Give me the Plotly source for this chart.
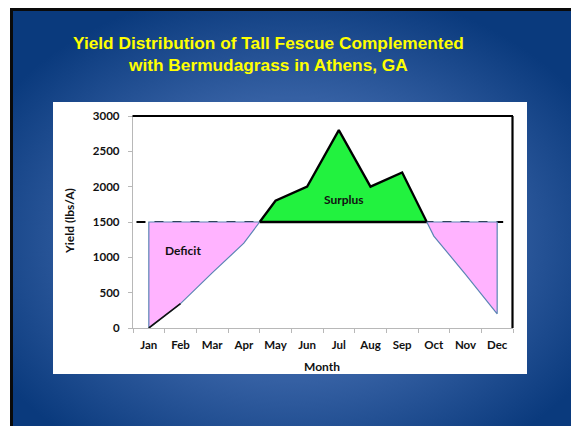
import base64
import plotly.graph_objects as go

months = ["Jan", "Feb", "Mar", "Apr", "May", "Jun", "Jul", "Aug", "Sep", "Oct", "Nov", "Dec"]
yield_lbs = [0, 345, 780, 1200, 1800, 2000, 2800, 2000, 2200, 1300, 760, 200]
requirement = 1500
y_ticks = [0, 500, 1000, 1500, 2000, 2500, 3000]
title_text = "Yield Distribution of Tall Fescue Complemented<br>with Bermudagrass in Athens, GA"

W, H = 571, 426
L, R, T, B = 133, 58, 116, 98
PW, PH = W - L - R, H - T - B


def px(x):
    return (x - L) / PW


def py(y):
    return (H - B - y) / PH


# Build surplus / deficit polygons from the data (with interpolated crossings)
xs = list(range(len(months)))
segments = []
cur_kind = None
cur = []
for i in range(len(xs)):
    yv = yield_lbs[i]
    kind = "s" if yv > requirement else "d"
    if cur_kind is None:
        cur_kind = kind
        cur = [(xs[i], yv)]
        continue
    if kind != cur_kind:
        y0 = yield_lbs[i - 1]
        xc = xs[i - 1] + (requirement - y0) / (yv - y0)
        cur.append((xc, requirement))
        segments.append((cur_kind, cur))
        cur_kind = kind
        cur = [(xc, requirement), (xs[i], yv)]
    else:
        cur.append((xs[i], yv))
segments.append((cur_kind, cur))

fig = go.Figure()

# dashed requirement line (under the deficit fills)
fig.add_trace(go.Scatter(
    x=[-0.39, 11.19], y=[requirement, requirement], mode="lines",
    line=dict(color="black", width=1.8, dash="dash"), hoverinfo="skip", showlegend=False))

for kind, pts in segments:
    xx, yy = zip(*pts)
    xx = list(xx)
    yy = list(yy)
    if yy[-1] != requirement:
        xx.append(xx[-1])
        yy.append(requirement)
    if yy[0] != requirement:
        xx.append(xx[0])
        yy.append(requirement)
    xx.append(xx[0])
    yy.append(yy[0])
    if kind == "d":
        fig.add_trace(go.Scatter(
            x=xx, y=yy, mode="lines", fill="toself", fillcolor="#FFB3FF",
            line=dict(color="#5B85B5", width=1.2), hoverinfo="skip", showlegend=False))
    else:
        fig.add_trace(go.Scatter(
            x=xx, y=yy, mode="lines", fill="toself", fillcolor="#22F23F",
            line=dict(color="black", width=2.3), hoverinfo="skip", showlegend=False))

# dark segment of the yield line at the start
fig.add_trace(go.Scatter(
    x=xs[:2], y=yield_lbs[:2], mode="lines",
    line=dict(color="#111111", width=1.6), hoverinfo="skip", showlegend=False))

# background slide as SVG
svg = f'''<svg xmlns="http://www.w3.org/2000/svg" width="{W}" height="{H}" viewBox="0 0 {W} {H}">
<defs><radialGradient id="g" cx="0.5" cy="0.55" r="0.62" gradientUnits="objectBoundingBox">
<stop offset="0" stop-color="#4A70B0"/><stop offset="0.55" stop-color="#3560A3"/>
<stop offset="1" stop-color="#0A3A7D"/></radialGradient></defs>
<rect x="0" y="0" width="{W}" height="{H}" fill="white"/>
<rect x="10" y="8" width="{W-10}" height="{H-8}" fill="#0a0a0a"/>
<rect x="13" y="11" width="{W-13}" height="{H-11}" fill="url(#g)"/>
<rect x="53" y="102" width="474" height="272" fill="white"/>
</svg>'''
src = "data:image/svg+xml;base64," + base64.b64encode(svg.encode()).decode()

fig.add_layout_image(dict(
    source=src, xref="paper", yref="paper", x=px(0), y=py(0),
    sizex=W / PW, sizey=H / PH, xanchor="left", yanchor="top",
    sizing="stretch", layer="below"))

# top and right black frame lines
fig.add_shape(type="line", xref="paper", yref="paper", x0=px(132.5), x1=px(513), y0=1, y1=1,
              line=dict(color="black", width=2.2))
fig.add_shape(type="line", xref="paper", yref="paper", x0=px(512.5), x1=px(512.5), y0=0, y1=1,
              line=dict(color="black", width=2.2))

font_lbl = "Lato, 'DejaVu Sans', sans-serif"
ANCH = dict(xanchor="center", yanchor="middle", showarrow=False)

fig.add_annotation(text="<b>Deficit</b>", x=1.08, y=1090, xref="x", yref="y",
                   font=dict(family=font_lbl, size=12, color="#111111"), **ANCH)
fig.add_annotation(text="<b>Surplus</b>", x=6.16, y=1817, xref="x", yref="y",
                   font=dict(family=font_lbl, size=12, color="#111111"), **ANCH)

fig.add_annotation(text="<b>" + title_text + "</b>", x=px(268), y=py(54), xref="paper", yref="paper",
                   font=dict(family="Liberation Sans, Arial, sans-serif", size=17.3, color="#FFFF00"), **ANCH)

fig.add_annotation(text="<b>Yield (lbs/A)</b>", x=px(69), y=py(221), xref="paper", yref="paper",
                   textangle=-90, font=dict(family=font_lbl, size=12, color="#111111"), **ANCH)
fig.add_annotation(text="<b>Month</b>", x=px(322), y=py(366), xref="paper", yref="paper",
                   font=dict(family=font_lbl, size=12, color="#111111"), **ANCH)

fig.update_layout(
    width=W, height=H,
    margin=dict(l=L, r=R, t=T, b=B),
    paper_bgcolor="white", plot_bgcolor="rgba(0,0,0,0)",
    showlegend=False,
    xaxis=dict(range=[-0.5, 11.5], tickvals=xs, ticktext=["<b>%s</b>" % m for m in months],
               ticks="", showgrid=False, zeroline=False, showline=True, linecolor="#B8B8B8", linewidth=1.3,
               tickfont=dict(family=font_lbl, size=11.5, color="#111111"), ticklabelstandoff=6,
               minor=dict(tick0=-0.5, dtick=1, ticks="outside", ticklen=4, tickcolor="#B8B8B8", tickwidth=1),
               fixedrange=True),
    yaxis=dict(range=[0, 3000], tickvals=y_ticks, ticktext=["<b>%d</b>" % v for v in y_ticks],
               ticks="outside", ticklen=4, tickcolor="#B8B8B8", showgrid=False, zeroline=False,
               showline=True, linecolor="#B8B8B8", linewidth=1.3,
               tickfont=dict(family=font_lbl, size=11.5, color="#111111"), ticklabelstandoff=6,
               fixedrange=True),
)

fig.write_html("out.html", config={"displayModeBar": False},
               post_script="document.body.style.margin='0';document.body.style.overflow='hidden';")
